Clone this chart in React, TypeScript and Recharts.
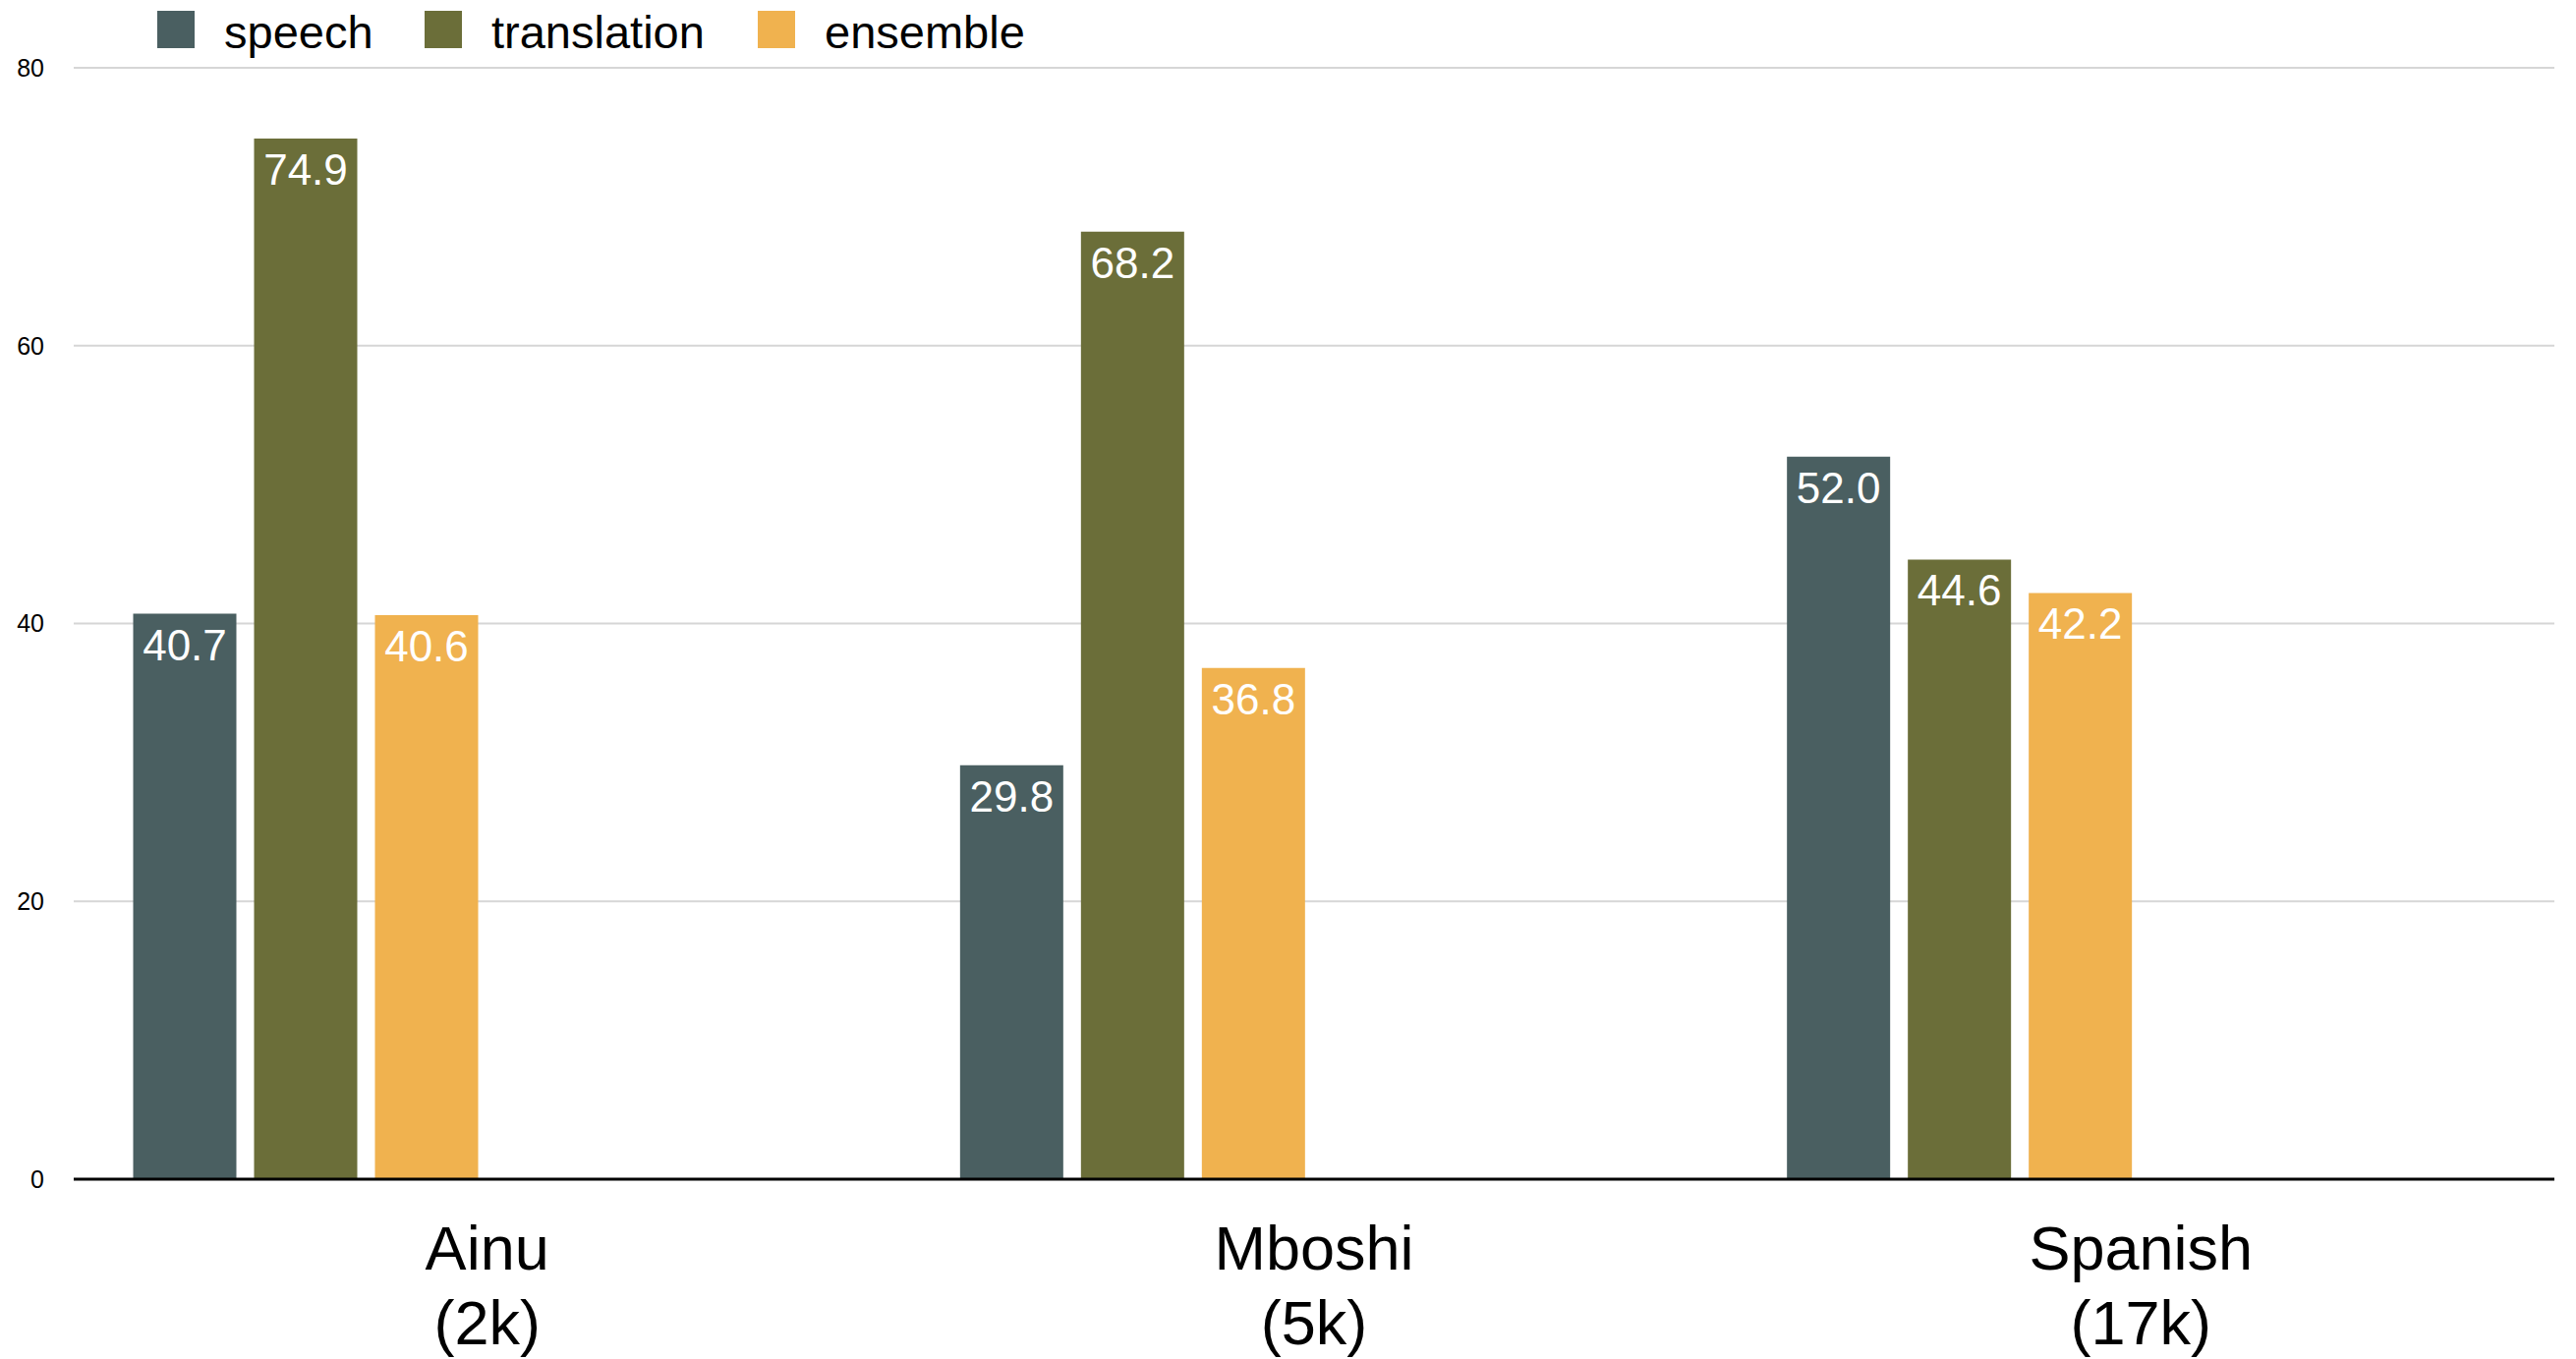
import React from 'react'
import { BarChart, Bar, XAxis, YAxis, CartesianGrid, LabelList } from 'recharts'

const languages = ['Ainu', 'Mboshi', 'Spanish']
const corpusSizes = ['2k', '5k', '17k']

const speech = [40.7, 29.8, 52.0]
const translation = [74.9, 68.2, 44.6]
const ensemble = [40.6, 36.8, 42.2]

const yTicks = [0, 20, 40, 60, 80]

const series = [
  { key: 'speech', name: 'speech', color: '#4a5f61' },
  { key: 'translation', name: 'translation', color: '#6b6e39' },
  { key: 'ensemble', name: 'ensemble', color: '#f0b24f' },
]

const FONT = '"Liberation Sans", Arial, Helvetica, sans-serif'

const data = languages.map((lang, i) => ({
  lang,
  size: corpusSizes[i],
  speech: speech[i],
  translation: translation[i],
  ensemble: ensemble[i],
}))

// two-line category label: name and corpus size
const CategoryTick = (props: any) => {
  const { x, y, payload, index } = props
  return (
    <g>
      <text x={x} y={y + 92} textAnchor="middle" fontSize={63} fontFamily={FONT} fill="#000">
        {payload.value}
      </text>
      <text x={x} y={y + 168} textAnchor="middle" fontSize={63} fontFamily={FONT} fill="#000">
        ({corpusSizes[index]})
      </text>
    </g>
  )
}

const ValueLabel = (props: any) => {
  const { x, y, width, value } = props
  if (value == null) return null
  return (
    <text x={x + width / 2} y={y + 47} textAnchor="middle" fontSize={44} fontFamily={FONT} fill="#fff">
      {Number(value).toFixed(1)}
    </text>
  )
}

function LegendRow() {
  const offsets = [160, 432, 771]
  return (
    <div style={{ position: 'absolute', left: 0, top: 0, fontFamily: FONT }}>
      {series.map((s, i) => (
        <div key={s.key} style={{ position: 'absolute', left: offsets[i], top: 11, display: 'flex', alignItems: 'center', whiteSpace: 'nowrap' }}>
          <div style={{ width: 38, height: 38, background: s.color }} />
          <span style={{ marginLeft: 30, fontSize: 47, lineHeight: '38px', color: '#000', position: 'relative', top: 3 }}>{s.name}</span>
        </div>
      ))}
    </div>
  )
}

export default function App() {
  return (
    <div style={{ position: 'absolute', left: 0, top: 0, width: 2621, height: 1383, background: '#fff' }}>
      <BarChart
        width={2621}
        height={1383}
        data={data}
        margin={{ top: 69, right: 22, bottom: 0, left: 0 }}
        barCategoryGap={60.5}
        barGap={18}
      >
        <CartesianGrid vertical={false} stroke="#d6d6d6" strokeWidth={2} />
        <XAxis
          dataKey="lang"
          height={183}
          tickLine={false}
          tickSize={0}
          tickMargin={0}
          axisLine={{ stroke: '#000', strokeWidth: 3 }}
          tick={<CategoryTick />}
          interval={0}
        />
        <YAxis
          width={75}
          domain={[0, 80]}
          ticks={yTicks}
          axisLine={false}
          tickLine={false}
          tickSize={0}
          tickMargin={30}
          tick={{ fontSize: 25, fill: '#000', fontFamily: FONT }}
        />
        {series.map((s) => (
          <Bar key={s.key} dataKey={s.key} name={s.name} fill={s.color} isAnimationActive={false}>
            <LabelList dataKey={s.key} content={<ValueLabel />} />
          </Bar>
        ))}
        {/* empty slots keep each group on the left half of its band */}
        <Bar dataKey="slot4" fill="transparent" legendType="none" isAnimationActive={false} />
        <Bar dataKey="slot5" fill="transparent" legendType="none" isAnimationActive={false} />
        <Bar dataKey="slot6" fill="transparent" legendType="none" isAnimationActive={false} />
      </BarChart>
      <LegendRow />
    </div>
  )
}
